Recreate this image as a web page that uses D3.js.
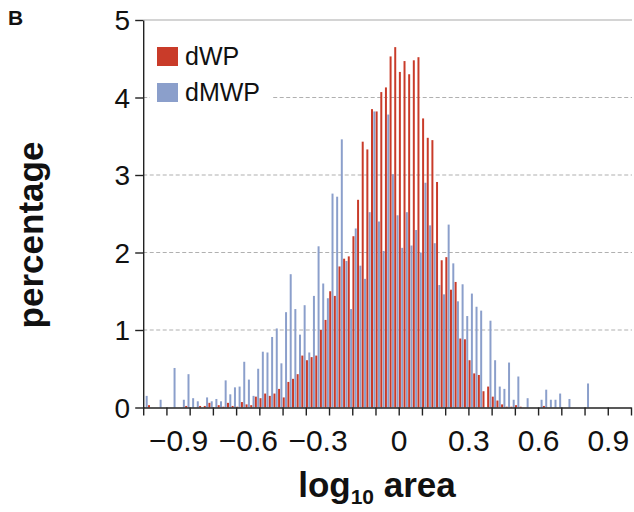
<!DOCTYPE html>
<html>
<head>
<meta charset="utf-8">
<script src="https://cdn.jsdelivr.net/npm/d3@7"></script>
<style>
  html, body { margin: 0; padding: 0; background: #fff; }
  svg { display: block; }
  text { font-family: "Liberation Sans", Arial, Helvetica, sans-serif; }
</style>
</head>
<body>
<svg id="chart" width="634" height="512"></svg>
<script>
// ---- data (bins of width 0.02, labelled by bin centre) ----
const binCenters = [
  -1.08,-1.06,-1.04,-1.02,-1.00,-0.98,-0.96,-0.94,-0.92,-0.90,
  -0.88,-0.86,-0.84,-0.82,-0.80,-0.78,-0.76,-0.74,-0.72,-0.70,
  -0.68,-0.66,-0.64,-0.62,-0.60,-0.58,-0.56,-0.54,-0.52,-0.50,
  -0.48,-0.46,-0.44,-0.42,-0.40,-0.38,-0.36,-0.34,-0.32,-0.30,
  -0.28,-0.26,-0.24,-0.22,-0.20,-0.18,-0.16,-0.14,-0.12,-0.10,
  -0.08,-0.06,-0.04,-0.02, 0.00, 0.02, 0.04, 0.06, 0.08, 0.10,
   0.12, 0.14, 0.16, 0.18, 0.20, 0.22, 0.24, 0.26, 0.28, 0.30,
   0.32, 0.34, 0.36, 0.38, 0.40, 0.42, 0.44, 0.46, 0.48, 0.50,
   0.52, 0.54, 0.56, 0.58, 0.60, 0.62, 0.64, 0.66, 0.68, 0.70,
   0.72, 0.74, 0.76, 0.78, 0.80, 0.82
];
const dMWP = [
  0.15,0,0,0.10,0,0,0.51,0,0.10,0.43,
  0.12,0.08,0,0.13,0.08,0.11,0.08,0.35,0.17,0.26,
  0.27,0.59,0.36,0.15,0.50,0.72,0.71,0.91,1.02,0.57,
  1.23,1.72,1.27,0.94,1.32,0.71,1.44,2.08,1.60,1.41,
  2.76,2.72,3.46,1.89,1.27,2.31,1.83,1.66,2.52,3.82,
  2.40,2.02,3.78,3.01,2.48,2.06,2.52,2.09,2.29,2.00,
  2.90,2.35,2.12,1.58,1.46,2.36,1.86,1.37,1.59,1.18,
  1.47,1.30,1.25,0,1.12,0.61,0.27,0.24,0.58,0.10,
  0.40,0,0.12,0,0,0.10,0.23,0.10,0.10,0.18,
  0,0.11,0,0,0,0.31
];
const dWP = [
  0.03,0,0,0,0,0,0,0,0.02,0,
  0,0.02,0.02,0.06,0,0.03,0.01,0.06,0.02,0.01,
  0.07,0.04,0.03,0.14,0.12,0.18,0.15,0.18,0.24,0.13,
  0.33,0.37,0.43,0.67,0.61,0.65,0.67,1.00,1.13,1.50,
  1.44,1.82,1.92,1.95,2.21,2.68,3.43,3.33,3.85,3.82,
  4.07,4.13,4.53,4.65,4.33,4.47,4.30,4.48,4.52,3.73,
  3.48,3.45,2.91,1.90,1.94,1.52,1.62,0.89,0.88,0.61,
  0.44,0.42,0.21,0.27,0.14,0.09,0.04,0.01,0.01,0.03,
  0.01,0,0,0,0,0.02,0,0,0,0,
  0,0,0,0,0,0
];
const binWidth = 0.02;
const xTicks = [-1.1,-1.0,-0.9,-0.8,-0.7,-0.6,-0.5,-0.4,-0.3,-0.2,-0.1,0,0.1,0.2,0.3,0.4,0.5,0.6,0.7,0.8,0.9,1.0];
const xLabelled = [-0.9,-0.6,-0.3,0,0.3,0.6,0.9];
const yTicks = [0,1,2,3,4,5];
const seriesNames = ["dWP","dMWP"];
const colors = {dWP:"#c93b29", dMWP:"#8b9fcb"};

// ---- layout ----
const svg = d3.select("#chart");
const x = d3.scaleLinear().domain([-1.1, 1.0]).range([143.2, 631]);
const y = d3.scaleLinear().domain([0, 5]).range([407.5, 20]);

// top border line
svg.append("line")
  .attr("x1", x(-1.1)).attr("x2", x(1.0)+1)
  .attr("y1", y(5)).attr("y2", y(5))
  .attr("stroke", "#c6c6c6").attr("stroke-width", 1.5);

// dashed gridlines
svg.append("g").selectAll("line").data([1,2,3,4]).join("line")
  .attr("x1", x(-1.1)).attr("x2", x(1.0)+1)
  .attr("y1", d => y(d)).attr("y2", d => y(d))
  .attr("stroke", "#b0b0b0").attr("stroke-width", 1.1)
  .attr("stroke-dasharray", "4,2.5");

// bars
const bins = binCenters.map((c, i) => ({c, wp: dWP[i], mwp: dMWP[i]}));
const pad = 0.17;
const gB = svg.append("g");
gB.selectAll("rect.mwp").data(bins.filter(d => d.mwp > 0)).join("rect")
  .attr("class","mwp")
  .attr("x", d => x(d.c - binWidth/2) + pad)
  .attr("width", d => x(d.c) - x(d.c - binWidth/2) - 2*pad)
  .attr("y", d => y(d.mwp))
  .attr("height", d => y(0) - y(d.mwp))
  .attr("fill", colors.dMWP);
gB.selectAll("rect.wp").data(bins.filter(d => d.wp > 0)).join("rect")
  .attr("class","wp")
  .attr("x", d => x(d.c) + pad)
  .attr("width", d => x(d.c + binWidth/2) - x(d.c) - 2*pad)
  .attr("y", d => y(d.wp))
  .attr("height", d => y(0) - y(d.wp))
  .attr("fill", colors.dWP);

// y axis
const yAxis = svg.append("g")
  .attr("transform", `translate(${x(-1.1)},0)`)
  .call(d3.axisLeft(y).tickValues(yTicks).tickSize(8).tickSizeOuter(0).tickPadding(5)
        .tickFormat(d3.format("d")));
yAxis.select(".domain").attr("stroke", "#222").attr("stroke-width", 1.4);
yAxis.selectAll(".tick line").attr("stroke", "#222").attr("stroke-width", 1.4);
yAxis.selectAll(".tick text").attr("font-size", 28).attr("fill", "#111").attr("dy", "0.35em");

// x axis
const fmt = v => {
  const isL = xLabelled.some(t => Math.abs(t - v) < 1e-9);
  if (!isL) return "";
  if (Math.abs(v) < 1e-9) return "0";
  return (v < 0 ? "\u2212" : "") + Math.abs(v).toFixed(1);
};
const xAxis = svg.append("g")
  .attr("transform", `translate(0,${y(0)})`)
  .call(d3.axisBottom(x).tickValues(xTicks).tickSize(8).tickSizeOuter(0).tickPadding(14)
        .tickFormat(fmt));
xAxis.select(".domain").attr("stroke", "#222").attr("stroke-width", 1.4);
xAxis.selectAll(".tick line").attr("stroke", "#222").attr("stroke-width", 1.4);
xAxis.selectAll(".tick text").attr("font-size", 30).attr("fill", "#111")
  .attr("dx", d => d < -1e-9 ? -11.5 : 0);

// legend
svg.append("rect").attr("x", 150).attr("y", 40).attr("width", 122).attr("height", 70).attr("fill", "#fff");
const leg = svg.append("g").selectAll("g").data(seriesNames).join("g")
  .attr("transform", (d, i) => `translate(157,${47 + i*36})`);
leg.append("rect").attr("width", 21).attr("height", 19).attr("fill", d => colors[d]);
leg.append("text").attr("x", 28).attr("y", 18).attr("font-size", 25).attr("fill", "#111").text(d => d);

// axis titles
const xt = svg.append("text").attr("x", 377).attr("y", 497)
  .attr("text-anchor", "middle").attr("font-size", 35).attr("font-weight", "bold").attr("fill", "#111");
xt.append("tspan").text("log");
xt.append("tspan").attr("font-size", 21).attr("dy", 7).text("10");
xt.append("tspan").attr("dy", -7).text(" area");

svg.append("text")
  .attr("transform", "translate(43,235) rotate(-90)")
  .attr("text-anchor", "middle").attr("font-size", 35).attr("font-weight", "bold").attr("fill", "#111")
  .text("percentage");

svg.append("text").attr("x", 8).attr("y", 25).attr("font-size", 21).attr("font-weight", "bold")
  .attr("fill", "#111").text("B");
</script>
</body>
</html>
